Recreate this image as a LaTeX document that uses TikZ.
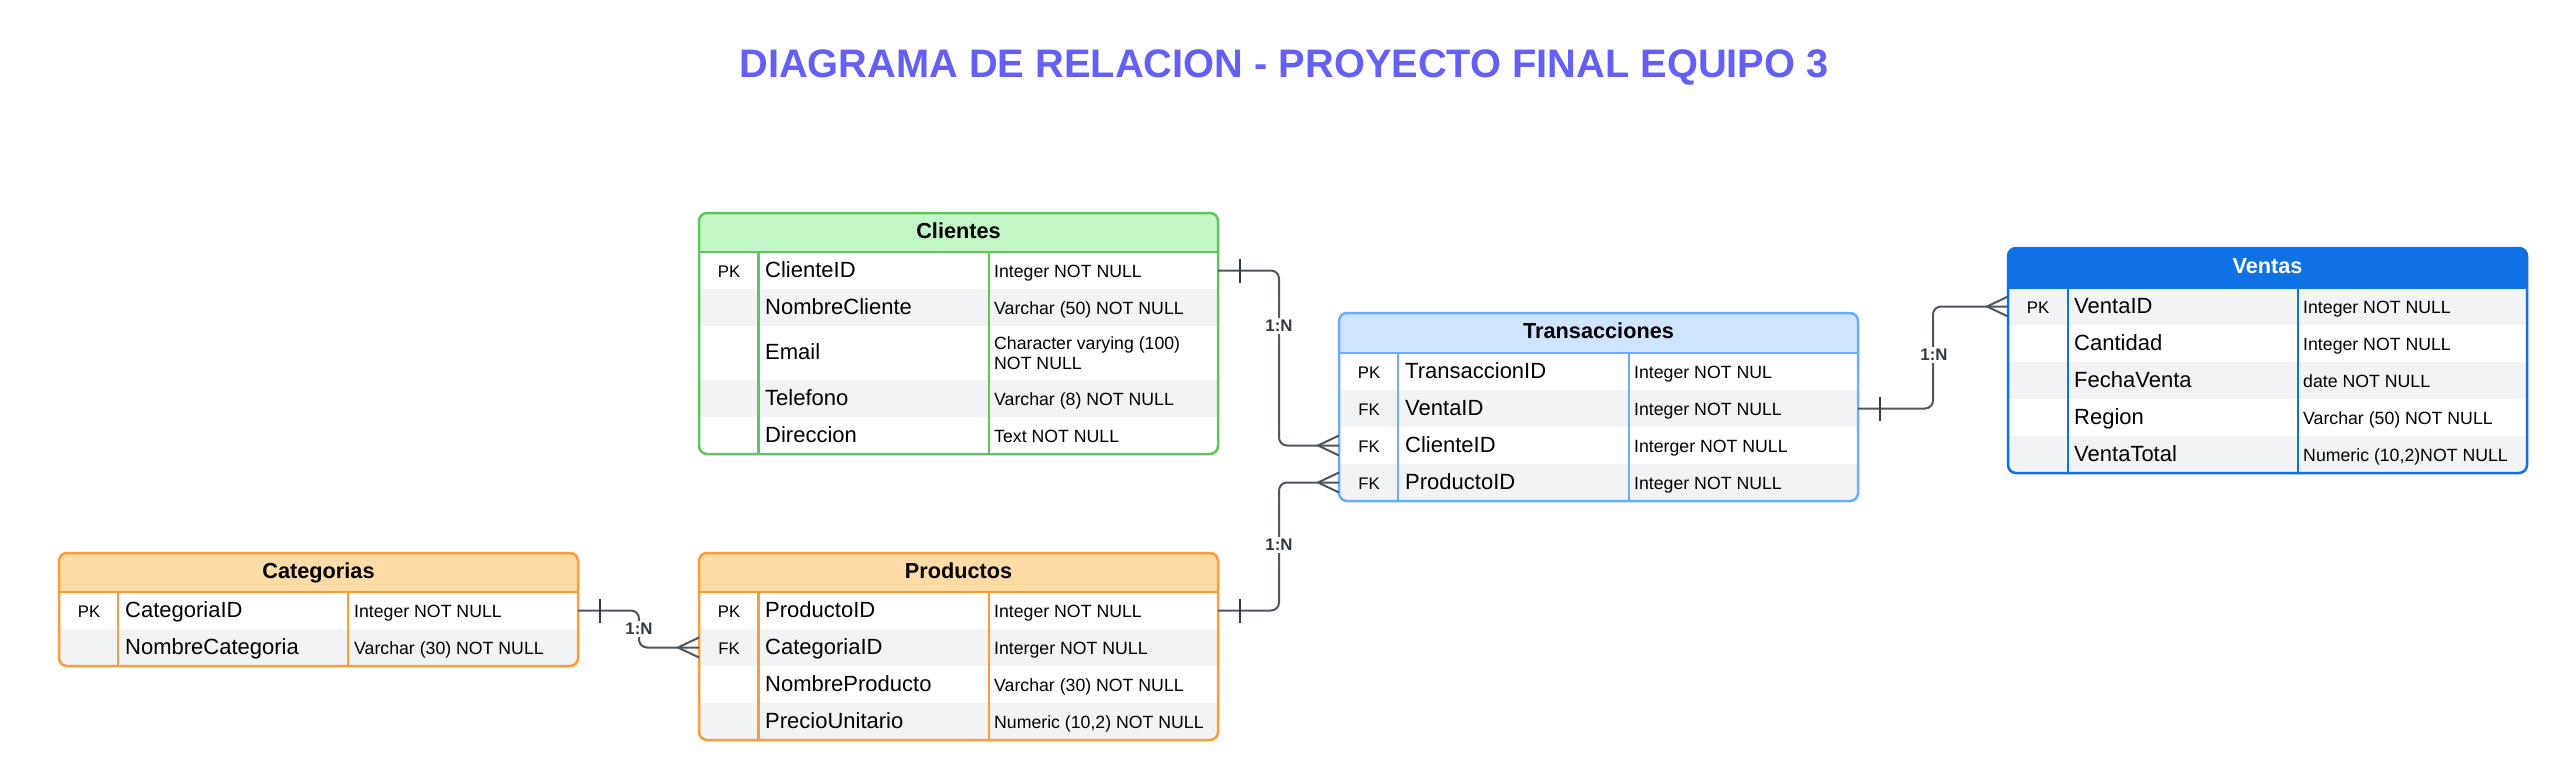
\documentclass[tikz,border=0pt]{standalone}
\usepackage{fontspec}
\setmainfont{Liberation Sans}
\usetikzlibrary{calc}
\definecolor{titlec}{HTML}{635FF7}
\definecolor{rowgray}{HTML}{F2F3F5}
\definecolor{clihdr}{HTML}{C3F6C7}
\definecolor{clibdr}{HTML}{5CC65C}
\definecolor{trahdr}{HTML}{CFE4FF}
\definecolor{trabdr}{HTML}{6AACFF}
\definecolor{venhdr}{HTML}{1071E5}
\definecolor{orahdr}{HTML}{FFDCA6}
\definecolor{orabdr}{HTML}{FF9A3A}
\definecolor{connc}{HTML}{50565E}
\definecolor{barcol}{HTML}{333A42}
\definecolor{cardc}{HTML}{333A42}
\tikzset{
 rowbox/.style={anchor=north west, minimum width=519pt, inner sep=0pt, outer sep=0pt, draw=none},
 keytxt/.style={anchor=base, inner sep=0pt, font=\fontsize{16.8}{19}\selectfont},
 fieldtxt/.style={anchor=base west, inner sep=0pt, font=\fontsize{22}{25}\selectfont},
 typetxt/.style={anchor=base west, inner sep=0pt, font=\fontsize{17.7}{20}\selectfont},
 hdrtxt/.style={anchor=base, inner sep=0pt, font=\bfseries\fontsize{21.7}{25}\selectfont},
 tblborder/.style={line width=2.5pt, rounded corners=8pt},
 tblline/.style={line width=2.5pt},
 rel/.style={draw=connc, line width=2pt, rounded corners=8pt},
 barst/.style={draw=barcol, line width=2.5pt},
 crow/.style={draw=connc, line width=2pt},
 card/.style={font=\bfseries\fontsize{16.8}{19}\selectfont, text=cardc, fill=white, inner sep=2pt},
 titlest/.style={anchor=base, inner sep=0pt, text=titlec, font=\bfseries\fontsize{39.8}{46}\selectfont},
}
\newcommand\erow[8]{%
 \node[rowbox, minimum height=#4pt, fill=#5] (#1) at (#2,#3) {};
 \node[keytxt] at ($(#1.west)+(30,6.5)$) {#6};
 \node[fieldtxt] at ($(#1.west)+(66,6.5)$) {#7};
 \node[typetxt] at ($(#1.west)+(295,6.5)$) {#8};
}
\begin{document}
\begin{tikzpicture}[x=1pt,y=-1pt]
\useasboundingbox[fill=white] (0,0) rectangle (2569,781);

\node[titlest] (title) at (1284,78) {DIAGRAMA DE RELACION - PROYECTO FINAL EQUIPO 3};

% ---------------- Clientes
\begin{scope}
\clip[rounded corners=8pt] (699,213) rectangle (1218,454);
\fill[clihdr] (699,213) rectangle (1218,252);
\erow{cliA}{699}{252}{37}{white}{PK}{ClienteID}{Integer NOT NULL}
\erow{cliB}{699}{289}{37}{rowgray}{}{NombreCliente}{Varchar (50) NOT NULL}
\erow{cliC}{699}{326}{54}{white}{}{Email}{}
\erow{cliD}{699}{380}{37}{rowgray}{}{Telefono}{Varchar (8) NOT NULL}
\erow{cliE}{699}{417}{37}{white}{}{Direccion}{Text NOT NULL}
\end{scope}
\node[typetxt, anchor=west, align=left] (cliCt) at ($(cliC.west)+(295,0)$) {Character varying (100)\\NOT NULL};
\draw[clibdr, tblborder] (699,213) rectangle (1218,454);
\draw[clibdr, tblline] (699,252) -- (1218,252) (758.5,252) -- (758.5,454) (989,252) -- (989,454);
\node[hdrtxt] (cliH) at (958.5,238) {Clientes};

% ---------------- Transacciones
\begin{scope}
\clip[rounded corners=8pt] (1339,313) rectangle (1858,501);
\fill[trahdr] (1339,313) rectangle (1858,353);
\erow{traA}{1339}{353}{37}{white}{PK}{TransaccionID}{Integer NOT NUL}
\erow{traB}{1339}{390}{37}{rowgray}{FK}{VentaID}{Integer NOT NULL}
\erow{traC}{1339}{427}{37}{white}{FK}{ClienteID}{Interger NOT NULL}
\erow{traD}{1339}{464}{37}{rowgray}{FK}{ProductoID}{Integer NOT NULL}
\end{scope}
\draw[trabdr, tblborder] (1339,313) rectangle (1858,501);
\draw[trabdr, tblline] (1339,353) -- (1858,353) (1398,353) -- (1398,501) (1629,353) -- (1629,501);
\node[hdrtxt] (traH) at (1598.5,338.5) {Transacciones};

% ---------------- Ventas
\begin{scope}
\clip[rounded corners=8pt] (2008,248) rectangle (2527,473);
\fill[venhdr] (2008,248) rectangle (2527,288);
\erow{venA}{2008}{288}{37}{rowgray}{PK}{VentaID}{Integer NOT NULL}
\erow{venB}{2008}{325}{37}{white}{}{Cantidad}{Integer NOT NULL}
\erow{venC}{2008}{362}{37}{rowgray}{}{FechaVenta}{date NOT NULL}
\erow{venD}{2008}{399}{37}{white}{}{Region}{Varchar (50) NOT NULL}
\erow{venE}{2008}{436}{37}{rowgray}{}{VentaTotal}{Numeric (10,2)NOT NULL}
\end{scope}
\draw[venhdr, tblborder] (2008,248) rectangle (2527,473);
\draw[venhdr, tblline] (2008,288) -- (2527,288) (2068,288) -- (2068,473) (2298,288) -- (2298,473);
\node[hdrtxt, text=white] (venH) at (2267.5,273.5) {Ventas};

% ---------------- Categorias
\begin{scope}
\clip[rounded corners=8pt] (59,553) rectangle (578,666);
\fill[orahdr] (59,553) rectangle (578,592);
\erow{catA}{59}{592}{37}{white}{PK}{CategoriaID}{Integer NOT NULL}
\erow{catB}{59}{629}{37}{rowgray}{}{NombreCategoria}{Varchar (30) NOT NULL}
\end{scope}
\draw[orabdr, tblborder] (59,553) rectangle (578,666);
\draw[orabdr, tblline] (59,592) -- (578,592) (118,592) -- (118,666) (348,592) -- (348,666);
\node[hdrtxt] (catH) at (318.5,578) {Categorias};

% ---------------- Productos
\begin{scope}
\clip[rounded corners=8pt] (699,553) rectangle (1218,740);
\fill[orahdr] (699,553) rectangle (1218,592);
\erow{proA}{699}{592}{37}{white}{PK}{ProductoID}{Integer NOT NULL}
\erow{proB}{699}{629}{37}{rowgray}{FK}{CategoriaID}{Interger NOT NULL}
\erow{proC}{699}{666}{37}{white}{}{NombreProducto}{Varchar (30) NOT NULL}
\erow{proD}{699}{703}{37}{rowgray}{}{PrecioUnitario}{Numeric (10,2) NOT NULL}
\end{scope}
\draw[orabdr, tblborder] (699,553) rectangle (1218,740);
\draw[orabdr, tblline] (699,592) -- (1218,592) (758.5,592) -- (758.5,740) (989,592) -- (989,740);
\node[hdrtxt] (proH) at (958.5,578) {Productos};

% ---------------- Relations
% Clientes -> Transacciones
\draw[rel] (cliA.east) -- ++(61,0) |- (traC.west);
\draw[barst] ($(cliA.east)+(22,-12)$) -- ++(0,24);
\draw[crow] ($(traC.west)+(0,-10)$) -- ++(-21,10) -- ++(21,10);
\node[card] (lab1) at (1279,326) {1:N};
% Productos -> Transacciones
\draw[rel] (proA.east) -- ++(61,0) |- (traD.west);
\draw[barst] ($(proA.east)+(22,-12)$) -- ++(0,24);
\draw[crow] ($(traD.west)+(0,-10)$) -- ++(-21,10) -- ++(21,10);
\node[card] (lab2) at (1279,545) {1:N};
% Transacciones -> Ventas
\draw[rel] (traB.east) -- ++(75,0) |- (venA.west);
\draw[barst] ($(traB.east)+(22,-12)$) -- ++(0,24);
\draw[crow] ($(venA.west)+(0,-10)$) -- ++(-21,10) -- ++(21,10);
\node[card] (lab3) at (1934,355) {1:N};
% Categorias -> Productos
\draw[rel] (catA.east) -- ++(61,0) |- (proB.west);
\draw[barst] ($(catA.east)+(22,-12)$) -- ++(0,24);
\draw[crow] ($(proB.west)+(0,-10)$) -- ++(-21,10) -- ++(21,10);
\node[card] (lab4) at (639,629) {1:N};
\end{tikzpicture}
\end{document}
